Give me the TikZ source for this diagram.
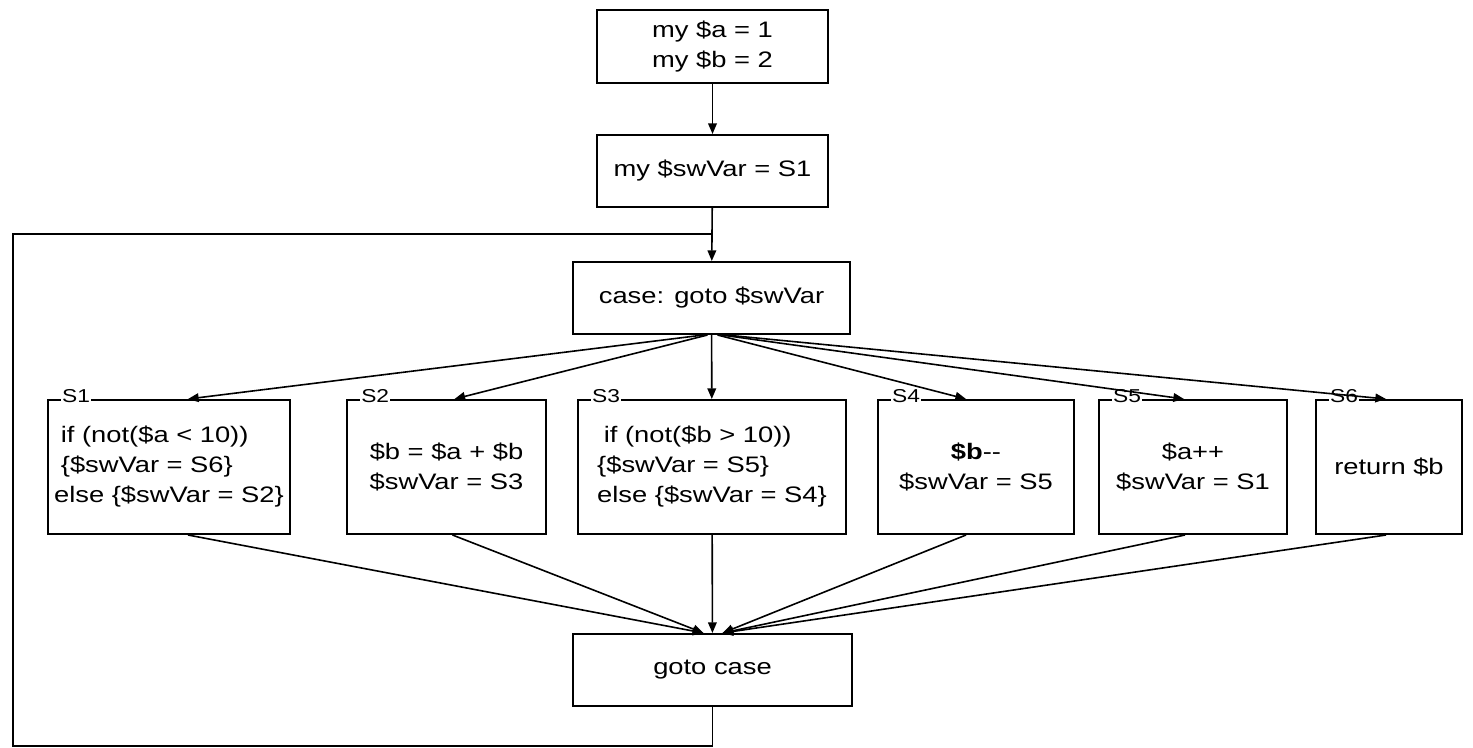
\documentclass[tikz,border=0pt]{standalone}
\usepackage{fontspec}
\setmainfont{Liberation Sans}[FakeStretch=1.22]
\usetikzlibrary{arrows.meta,calc}
\tikzset{every picture/.style={line width=1.2pt}}
\tikzset{
  blk/.style={draw, line width=1.5pt, align=center, inner sep=0pt,
    font=\fontsize{16.8}{22.5}\selectfont},
  flow/.style={line width=1.2pt, -{Triangle[length=8pt,width=6.5pt]}},
  slbl/.style={fill=white, inner sep=1pt, anchor=west,
    font=\fontsize{14}{16}\selectfont}
}

\begin{document}
\begin{tikzpicture}[x=0.75pt,y=0.75pt,yscale=-1,xscale=1]
\useasboundingbox (0,0) rectangle (1473,748);

%Shape: Rectangle [init]
\node [blk, minimum width=173pt, minimum height=55pt] (init) at (712.5,46.5) {my \$a = 1\\my \$b = 2};
%Shape: Rectangle [swinit]
\node [blk, minimum width=173pt, minimum height=54pt] (swinit) at (712.5,171) {my \$swVar = S1};
%Shape: Rectangle [casebox]
\node [blk, minimum width=208pt, minimum height=54pt] (casebox) at (711.5,298) {case: goto \$swVar};

%Shape: Rectangle [s1 .. s6]
\node [blk, align=left, minimum width=181.5pt, minimum height=100.5pt] (s1) at (169,467) {\hspace*{0.3em}if (not(\$a < 10))\\\hspace*{0.3em}\{\$swVar = S6\}\\else \{\$swVar = S2\}};
\node [blk, minimum width=149pt, minimum height=100.5pt] (s2) at (446.5,467) {\$b = \$a + \$b\\\$swVar = S3};
\node [blk, align=left, minimum width=201pt, minimum height=100.5pt] (s3) at (712,467) {\hspace*{0.3em}if (not(\$b > 10))\\\{\$swVar = S5\}\\else \{\$swVar = S4\}};
\node [blk, minimum width=147pt, minimum height=100.5pt] (s4) at (976,467) {\textbf{\$b}-{}-\\\$swVar = S5};
\node [blk, minimum width=141pt, minimum height=100.5pt] (s5) at (1193,467) {\$a++\\\$swVar = S1};
\node [blk, minimum width=109.5pt, minimum height=100.5pt] (s6) at (1389,467) {return \$b};

%Shape: Rectangle [gotocase]
\node [blk, minimum width=209pt, minimum height=54pt] (gotocase) at (712.5,670) {goto case};

% Text Node
\node [slbl] (l1) at ($(s1.north west)+(13,-3)$) {S1};
\node [slbl] (l2) at ($(s2.north west)+(13,-3)$) {S2};
\node [slbl] (l3) at ($(s3.north west)+(13,-3)$) {S3};
\node [slbl] (l4) at ($(s4.north west)+(13,-3)$) {S4};
\node [slbl] (l5) at ($(s5.north west)+(13,-3)$) {S5};
\node [slbl] (l6) at ($(s6.north west)+(13,-3)$) {S6};

%Straight Lines [top]
\draw [flow] (init) -- (swinit);
\draw [flow] (swinit) -- (casebox);

%Straight Lines [loop back]
\coordinate (lpbot) at (13,746);
\coordinate (lptop) at (13,234);
\draw (gotocase.south) |- (lpbot) -- (lptop) -- (lptop -| casebox.north);

%Straight Lines [case to states]
\draw [flow] ($(casebox.south)+(-8,0)$) -- ($(s1.north)+(19,0)$);
\draw [flow] ($(casebox.south)+(-4,0)$) -- ($(s2.north)+(8,0)$);
\draw [flow] (casebox) -- (s3);
\draw [flow] ($(casebox.south)+(6,0)$) -- ($(s4.north)+(-10,0)$);
\draw [flow] ($(casebox.south)+(10,0)$) -- ($(s5.north)+(-9,0)$);
\draw [flow] ($(casebox.south)+(14,0)$) -- ($(s6.north)+(-3,0)$);

%Straight Lines [states to goto]
\draw [flow] ($(s1.south)+(19,0)$) -- ($(gotocase.north)+(-9,0)$);
\draw [flow] ($(s2.south)+(6,0)$) -- ($(gotocase.north)+(-9,0)$);
\draw [flow] (s3) -- (gotocase);
\draw [flow] ($(s4.south)+(-10,0)$) -- ($(gotocase.north)+(10,0)$);
\draw [flow] ($(s5.south)+(-8,0)$) -- ($(gotocase.north)+(10,0)$);
\draw [flow] ($(s6.south)+(-3,0)$) -- ($(gotocase.north)+(10,0)$);

\end{tikzpicture}
\end{document}
